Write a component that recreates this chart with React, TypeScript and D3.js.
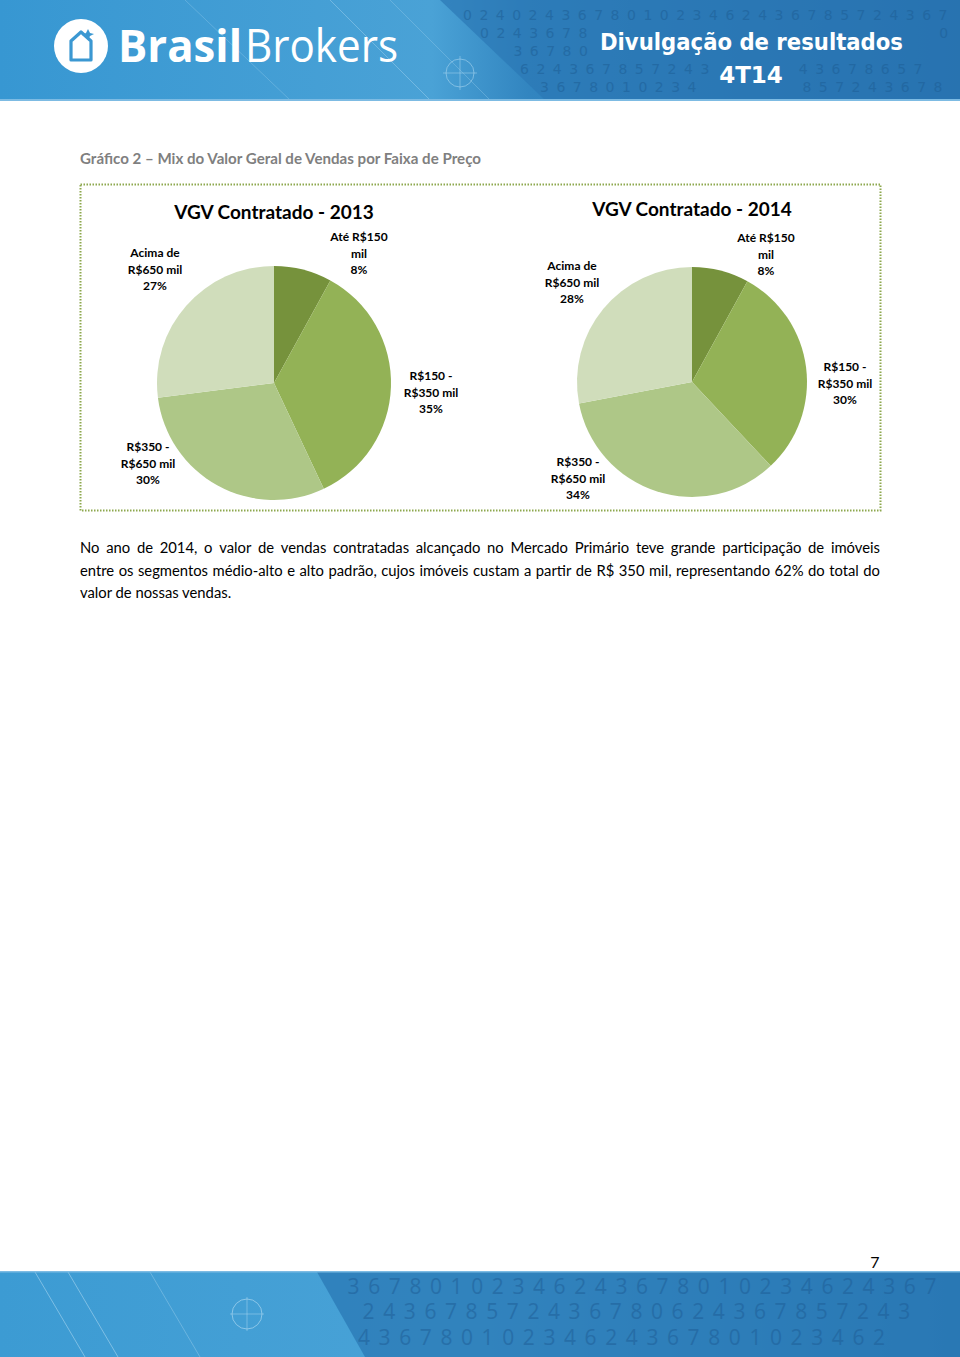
import React from 'react';
import * as d3 from 'd3';

const CATEGORIES = ['Até R$150 mil', 'R$150 - R$350 mil', 'R$350 - R$650 mil', 'Acima de R$650 mil'];
const LABEL_LINES = [['Até R$150', 'mil'], ['R$150 -', 'R$350 mil'], ['R$350 -', 'R$650 mil'], ['Acima de', 'R$650 mil']];
const VALUES_2013 = [8, 35, 30, 27];
const VALUES_2014 = [8, 30, 34, 28];
const COLORS = ['#76923C', '#93B256', '#AEC787', '#D0DDBB'];

const SECTION_TITLE = 'Gráfico 2 – Mix do Valor Geral de Vendas por Faixa de Preço';
const PARAGRAPH = [
  'No ano de 2014, o valor de vendas contratadas alcançado no Mercado Primário teve grande participação de imóveis',
  'entre os segmentos médio-alto e alto padrão, cujos imóveis custam a partir de R$ 350 mil, representando 62% do total do',
  'valor de nossas vendas.',
];
const HEADER_DIGITS = [
  '0240243678010234624367857243678010234',
  '0243678010234624367857243678010234',
  '436780102346243678573424',
  '6243678572436734243678657',
  '36780102346243678572436780102',
];
const FOOTER_DIGITS = [
  '436780102346243678010234624367',
  '6243678572436780624367857243',
  '43678010234624367801023462',
];

const PIES = [
  {
    title: 'VGV Contratado - 2013', values: VALUES_2013, cx: 274, cy: 383, r: 117, ty: 219,
    labels: [[359, 237], [431, 376], [148, 447], [155, 253]],
  },
  {
    title: 'VGV Contratado - 2014', values: VALUES_2014, cx: 692, cy: 382, r: 115, ty: 216,
    labels: [[766, 238], [845, 367], [578, 462], [572, 266]],
  },
];

const FONT = 'Lato, "Open Sans", sans-serif';

let ctx: CanvasRenderingContext2D | null = null;
function measure(text: string, font: string) {
  if (!ctx) ctx = document.createElement('canvas').getContext('2d');
  if (!ctx) return text.length * 7;
  ctx.font = font;
  return ctx.measureText(text).width;
}

function Justified({ text, x, y, width, justify, size }: any) {
  const font = `${size}px Lato`;
  const words = text.split(' ');
  if (!justify) {
    return <text x={x} y={y} fontSize={size} fontFamily={FONT} fill="#000">{text}</text>;
  }
  const widths = words.map((w: string) => measure(w, font));
  const total = widths.reduce((a: number, b: number) => a + b, 0);
  const gap = (width - total) / (words.length - 1);
  let cur = x;
  const pos = widths.map((w: number) => { const p = cur; cur += w + gap; return p; });
  return (
    <g>
      {words.map((w: string, i: number) => (
        <text key={i} x={pos[i]} y={y} fontSize={size} fontFamily={FONT} fill="#000">{w}</text>
      ))}
    </g>
  );
}

function Pie({ cfg }: any) {
  const pie = d3.pie<number>().sort(null).value((d) => d).startAngle(0).endAngle(2 * Math.PI);
  const arc = d3.arc<d3.PieArcDatum<number>>().innerRadius(0).outerRadius(cfg.r);
  const arcs = pie(cfg.values);
  return (
    <g>
      <text x={cfg.cx} y={cfg.ty} textAnchor="middle" fontFamily={FONT} fontWeight={700} fontSize={19} fill="#000">
        {cfg.title}
      </text>
      <g transform={`translate(${cfg.cx},${cfg.cy})`}>
        {arcs.map((a, i) => (
          <path key={i} d={arc(a) || ''} fill={COLORS[i]}><title>{CATEGORIES[i]}</title></path>
        ))}
      </g>
      {arcs.map((a, i) => {
        const [lx, ly] = cfg.labels[i];
        const lines = [...LABEL_LINES[i], `${cfg.values[i]}%`];
        return (
          <text key={i} textAnchor="middle" fontFamily={FONT} fontWeight={700} fontSize={12} fill="#000">
            {lines.map((l, j) => (
              <tspan key={j} x={lx} y={ly + 4 + j * 16.5}>{l}</tspan>
            ))}
          </text>
        );
      })}
    </g>
  );
}

type Box = [number, number, number, number];
function inBox(x: number, y: number, boxes: Box[]) {
  return boxes.some(([x0, y0, x1, y1]) => x >= x0 && x <= x1 && y >= y0 && y <= y1);
}

function DigitRows({ rows, starts, ys, step, size, fill, opacity, minX, slope, y0, avoid, font }: any) {
  const out: any[] = [];
  rows.forEach((row: string, r: number) => {
    const y = ys[r];
    row.split('').forEach((ch: string, k: number) => {
      const x = starts[r] + k * step;
      const edge = minX + (y - y0) * slope;
      if (x < edge || x > 958 - step * 0.7) return;
      if (inBox(x, y, avoid) || inBox(x + step * 0.6, y, avoid)) return;
      out.push(
        <text key={`${r}-${k}`} x={x} y={y} fontFamily={font} fontSize={size} fill={fill} opacity={opacity}>{ch}</text>
      );
    });
  });
  return <g>{out}</g>;
}

function Header() {
  const avoid: Box[] = [[592, 22, 935, 60], [712, 56, 792, 94]];
  return (
    <g>
      <defs>
        <linearGradient id="hg" x1="0" x2="1" y1="0" y2="0">
          <stop offset="0" stopColor="#3797D2" />
          <stop offset="0.45" stopColor="#4AA2D6" />
          <stop offset="0.55" stopColor="#3285C0" />
          <stop offset="1" stopColor="#2268A6" />
        </linearGradient>
        <linearGradient id="fg" x1="0" x2="1" y1="0" y2="0">
          <stop offset="0" stopColor="#3C9BD3" />
          <stop offset="0.5" stopColor="#4AA3D7" />
          <stop offset="1" stopColor="#2A78B4" />
        </linearGradient>
      </defs>
      <rect x={0} y={0} width={960} height={100} fill="url(#hg)" />
      <polygon points="440,0 960,0 960,100 545,100" fill="#2B78B5" opacity={0.7} />
      <DigitRows rows={HEADER_DIGITS} starts={[463, 480, 497, 520, 540]} ys={[20, 38, 56, 74, 92]} step={16.4} size={14}
        fill="#1E5F96" opacity={0.55} minX={448} slope={1.05} y0={8} avoid={avoid} font='"DejaVu Sans", sans-serif' />
      <line x1={330} y1={0} x2={430} y2={100} stroke="#9CD0EE" strokeWidth={1} opacity={0.5} />
      <line x1={185} y1={0} x2={290} y2={100} stroke="#9CD0EE" strokeWidth={1} opacity={0.35} />
      <line x1={390} y1={0} x2={490} y2={100} stroke="#9CD0EE" strokeWidth={1} opacity={0.35} />
      <circle cx={460} cy={73} r={14} fill="none" stroke="#A9D6F0" strokeWidth={1} opacity={0.6} />
      <line x1={443} y1={73} x2={477} y2={73} stroke="#A9D6F0" opacity={0.5} />
      <line x1={460} y1={56} x2={460} y2={90} stroke="#A9D6F0" opacity={0.5} />
      <rect x={0} y={99} width={960} height={2} fill="#7DBBE3" />
      {/* logo */}
      <circle cx={81} cy={46} r={27} fill="#fff" />
      <path d="M71,60 L71,41 L81,32 L91,41 L91,60 Z" fill="none" stroke="#3B98D2" strokeWidth={3.2} strokeLinejoin="round" />
      <path d="M86,33 l2,-4 l2,4 l4,1 l-4,2 l-2,4 l-2,-4 l-4,-1 z" fill="#3B98D2" />
      <text x={118} y={62} fontFamily='"Open Sans", sans-serif' fontWeight={700} fontSize={45} fill="#fff" textLength={124} lengthAdjust="spacingAndGlyphs">Brasil</text>
      <text x={245} y={62} fontFamily='"Open Sans", sans-serif' fontWeight={400} fontSize={45} fill="#fff" textLength={153} lengthAdjust="spacingAndGlyphs">Brokers</text>
      <text x={600} y={50} fontFamily='"DejaVu Sans", sans-serif' fontWeight={700} fontSize={23} fill="#fff" textLength={303} lengthAdjust="spacingAndGlyphs">Divulgação de resultados</text>
      <text x={751} y={83} textAnchor="middle" fontFamily='"DejaVu Sans", sans-serif' fontWeight={700} fontSize={23} fill="#fff">4T14</text>
      {/* footer */}
      <rect x={0} y={1272} width={960} height={85} fill="url(#fg)" />
      <polygon points="317,1272 960,1272 960,1357 365,1357" fill="#2A78B4" opacity={0.75} />
      <DigitRows rows={FOOTER_DIGITS} starts={[327, 342, 358]} ys={[1294, 1319, 1345]} step={20.6} size={21}
        fill="#1F5F98" opacity={0.55} minX={318} slope={0.56} y0={1276} avoid={[]} font='"Open Sans", sans-serif' />
      <line x1={35} y1={1272} x2={85} y2={1357} stroke="#A9D6F0" opacity={0.6} />
      <line x1={68} y1={1272} x2={118} y2={1357} stroke="#A9D6F0" opacity={0.6} />
      <line x1={150} y1={1272} x2={200} y2={1357} stroke="#A9D6F0" opacity={0.4} />
      <circle cx={247} cy={1314} r={15} fill="none" stroke="#A9D6F0" strokeWidth={1} opacity={0.7} />
      <line x1={230} y1={1314} x2={264} y2={1314} stroke="#A9D6F0" opacity={0.5} />
      <line x1={247} y1={1297} x2={247} y2={1331} stroke="#A9D6F0" opacity={0.5} />
      <rect x={0} y={1271} width={960} height={1.5} fill="#7DBBE3" />
    </g>
  );
}

export default function App() {
  return (
    <svg width={960} height={1357} style={{ position: 'absolute', left: 0, top: 0, background: '#fff' }}>
      <rect x={0} y={0} width={960} height={1357} fill="#fff" />
      <Header />
      <text x={80} y={164} fontFamily={FONT} fontWeight={700} fontSize={14.5} fill="#7F7F7F" textLength={401} lengthAdjust="spacingAndGlyphs">
        {SECTION_TITLE}
      </text>
      <rect x={80.5} y={184.5} width={800} height={326} fill="none" stroke="#8DA84E" strokeWidth={2} strokeDasharray="1.5 1.5" />
      {PIES.map((p, i) => <Pie key={i} cfg={p} />)}
      {PARAGRAPH.map((line, i) => (
        <Justified key={i} text={line} x={80} y={553 + i * 22.5} width={800} justify={i < PARAGRAPH.length - 1} size={14.8} />
      ))}
      <text x={875} y={1268} textAnchor="middle" fontFamily={FONT} fontSize={16} fill="#000">7</text>
    </svg>
  );
}
